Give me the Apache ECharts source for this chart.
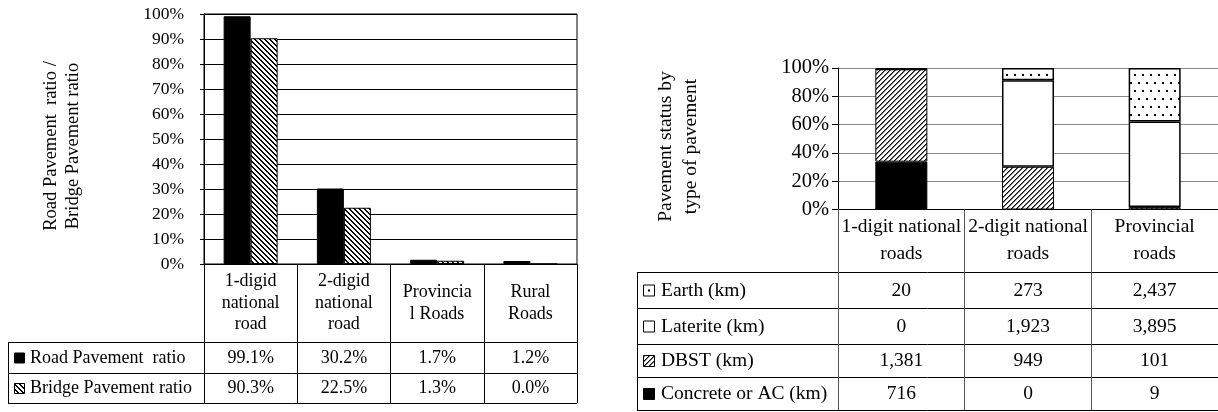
<!DOCTYPE html>
<html><head><meta charset="utf-8">
<script src="https://cdn.jsdelivr.net/npm/echarts@6/dist/echarts.min.js"></script>
<style>html,body{margin:0;padding:0;background:#fff}#c{width:1218px;height:412px}</style>
</head><body><div id="c"></div>
<script>
// ---------- DATA ----------
const leftCategories = ['1-digid\nnational\nroad', '2-digid\nnational\nroad', 'Provincia\nl Roads', 'Rural\nRoads'];
const leftSeriesNames = ['Road Pavement  ratio', 'Bridge Pavement ratio'];
const roadPavement = [99.1, 30.2, 1.7, 1.2];
const bridgePavement = [90.3, 22.5, 1.3, 0.0];
const leftAxisTitle = 'Road Pavement  ratio /\nBridge Pavement ratio';

const rightCategories = ['1-digit national\nroads', '2-digit national\nroads', 'Provincial\nroads'];
const rightSeriesNames = ['Earth (km)', 'Laterite (km)', 'DBST (km)', 'Concrete or AC (km)'];
const earthKm = [20, 273, 2437];
const lateriteKm = [0, 1923, 3895];
const dbstKm = [1381, 949, 101];
const concreteKm = [716, 0, 9];
const rightAxisTitle = 'Pavement status by\ntype of pavement';

// ---------- helpers ----------
const FONT = 'Liberation Serif';
function tile(size, draw) {
  const c = document.createElement('canvas');
  c.width = c.height = size;
  const g = c.getContext('2d');
  g.fillStyle = '#fff'; g.fillRect(0, 0, size, size);
  draw(g, size);
  return c;
}
const backHatch = tile(5, (g, s) => { for (let i = 0; i < s; i++) { g.fillStyle = '#000'; g.fillRect(i, i, 1, 1); g.fillRect((i + 1) % s, i, 1, 1); } });
const fwdHatch = tile(5, (g, s) => { for (let i = 0; i < s; i++) { g.fillStyle = '#000'; g.fillRect(s - 1 - i, i, 1, 1); g.fillStyle = '#777'; g.fillRect((s - i) % s, i, 1, 1); } });
const dots = tile(16, (g) => { g.fillStyle = '#000'; [[2,2],[10,2],[6,10],[14,10]].forEach(p => g.fillRect(p[0], p[1], 2, 2)); });
const pat = (img) => ({ image: img, repeat: 'repeat' });

const totals = earthKm.map((v, i) => v + lateriteKm[i] + dbstKm[i] + concreteKm[i]);
const share = (arr) => arr.map((v, i) => v / totals[i] * 100);

const chart = echarts.init(document.getElementById('c'), null, { renderer: 'canvas' });

const LF = 18, RF = 19.5;
const baseLabel = { fontFamily: FONT, color: '#000' };
chart.setOption({
  animation: false,
  backgroundColor: '#fff',
  grid: [
    { left: 204, top: 14, width: 373, height: 250, show: true, borderColor: '#000', borderWidth: 1, backgroundColor: 'transparent' },
    { left: 838, top: 68, width: 384, height: 141.5 }
  ],
  xAxis: [
    { type: 'category', gridIndex: 0, data: leftCategories,
      axisLine: { lineStyle: { color: '#000', width: 1 } },
      axisTick: { show: true, length: 139, interval: 0, lineStyle: { color: '#000' } },
      axisLabel: Object.assign({}, baseLabel, { interval: 0, margin: 39, verticalAlign: 'middle', align: 'center', fontSize: LF, lineHeight: 21.7 }),
      splitLine: { show: false } },
    { type: 'category', gridIndex: 1, data: rightCategories,
      axisLine: { lineStyle: { color: '#000', width: 1 } },
      axisTick: { show: true, length: 200.5, interval: 0, lineStyle: { color: '#555' } },
      axisLabel: Object.assign({}, baseLabel, { interval: 0, margin: 31, verticalAlign: 'middle', align: 'center', fontSize: RF, lineHeight: 26.7 }),
      splitLine: { show: false } }
  ],
  yAxis: [
    { type: 'value', gridIndex: 0, min: 0, max: 100, interval: 10,
      axisLine: { show: true, lineStyle: { color: '#000' } },
      axisTick: { show: true, length: 4, lineStyle: { color: '#000' } },
      axisLabel: Object.assign({}, baseLabel, { margin: 20, fontSize: 17.5, formatter: '{value}%' }),
      splitLine: { show: true, lineStyle: { color: '#000', width: 1 } } },
    { type: 'value', gridIndex: 1, min: 0, max: 100, interval: 20,
      axisLine: { show: true, lineStyle: { color: '#000' } },
      axisTick: { show: true, length: 6, lineStyle: { color: '#000' } },
      axisLabel: Object.assign({}, baseLabel, { margin: 9, fontSize: 20.5, formatter: '{value}%' }),
      splitLine: { show: true, lineStyle: { color: '#8a8a8a', width: 1 } } }
  ],
  series: [
    { name: leftSeriesNames[0], type: 'bar', xAxisIndex: 0, yAxisIndex: 0, data: roadPavement, barWidth: 27, barGap: '0%',
      itemStyle: { color: '#000', borderColor: '#000', borderWidth: 1 } },
    { name: leftSeriesNames[1], type: 'bar', xAxisIndex: 0, yAxisIndex: 0, data: bridgePavement, barWidth: 27, barGap: '0%',
      itemStyle: { color: pat(backHatch), borderColor: '#000', borderWidth: 1 } },
    { name: rightSeriesNames[3], type: 'bar', stack: 'p', xAxisIndex: 1, yAxisIndex: 1, data: share(concreteKm), barWidth: 52,
      itemStyle: { color: '#000', borderColor: '#000', borderWidth: 1 } },
    { name: rightSeriesNames[2], type: 'bar', stack: 'p', xAxisIndex: 1, yAxisIndex: 1, data: share(dbstKm), barWidth: 52,
      itemStyle: { color: pat(fwdHatch), borderColor: '#000', borderWidth: 1 } },
    { name: rightSeriesNames[1], type: 'bar', stack: 'p', xAxisIndex: 1, yAxisIndex: 1, data: share(lateriteKm), barWidth: 52,
      itemStyle: { color: '#fff', borderColor: '#000', borderWidth: 1.5 } },
    { name: rightSeriesNames[0], type: 'bar', stack: 'p', xAxisIndex: 1, yAxisIndex: 1, data: share(earthKm), barWidth: 52,
      itemStyle: { color: pat(dots), borderColor: '#000', borderWidth: 1.5 } }
  ]
});

// ---------- data tables (text from arrays, x from axis scale) ----------
const g = [];
function text(x, y, t, size, align) {
  g.push({ type: 'text', x: x, y: y, silent: true, style: { text: t, fontFamily: FONT, fontSize: size, fill: '#000', align: align || 'center', verticalAlign: 'middle' } });
}
function line(x1, y1, x2, y2, c, w) {
  g.push({ type: 'line', silent: true, shape: { x1: x1, y1: y1, x2: x2, y2: y2 }, style: { stroke: c || '#000', lineWidth: w || 1 } });
}
function rect(x, y, w, h, fill, stroke) {
  g.push({ type: 'rect', silent: true, shape: { x: x, y: y, width: w, height: h }, style: { fill: fill, stroke: stroke || '#000', lineWidth: 1 } });
}

// axis titles
g.push({ type: 'text', x: 62, y: 146, rotation: Math.PI / 2, silent: true,
  style: { text: leftAxisTitle, fontFamily: FONT, fontSize: 18.5, lineHeight: 22.7, fill: '#000', align: 'center', verticalAlign: 'middle' } });
g.push({ type: 'text', x: 678.5, y: 146.5, rotation: Math.PI / 2, silent: true,
  style: { text: rightAxisTitle, fontFamily: FONT, fontSize: 19.5, lineHeight: 25, fill: '#000', align: 'center', verticalAlign: 'middle' } });

// left table
const lRows = [342.5, 373.5, 403.5];
lRows.forEach(y => line(8, y, 577, y));
line(8.5, 342, 8.5, 404);
const lRowMid = [358, 388.5];
const lVals = [roadPavement, bridgePavement];
rect(14.5, lRowMid[0] - 5, 10, 10, '#000');
rect(14.5, lRowMid[1] - 5, 10, 10, pat(backHatch));
lVals.forEach((arr, r) => {
  text(30, lRowMid[r], leftSeriesNames[r], LF, 'left');
  arr.forEach((v, i) => {
    const x = chart.convertToPixel({ xAxisIndex: 0 }, i);
    text(x, lRowMid[r], v.toFixed(1) + '%', LF);
  });
});

// right table
const rRows = [272.5, 308.5, 344.5, 377.5, 410.5];
rRows.forEach(y => line(637, y, 1218, y));
line(637.5, 272, 637.5, 411);
const rRowMid = [290.5, 326.5, 361, 394];
const rVals = [earthKm, lateriteKm, dbstKm, concreteKm];
const symFill = ['#fff', '#fff', pat(fwdHatch), '#000'];
rVals.forEach((arr, r) => {
  rect(643.5, rRowMid[r] - 5.5, 11, 11, symFill[r]);
  if (r === 0) g.push({ type: 'rect', silent: true, shape: { x: 648, y: rRowMid[r] - 1, width: 2, height: 2 }, style: { fill: '#000' } });
  text(661, rRowMid[r], rightSeriesNames[r], RF, 'left');
  arr.forEach((v, i) => {
    const x = chart.convertToPixel({ xAxisIndex: 1 }, i);
    text(x, rRowMid[r], v.toLocaleString('en-US'), RF);
  });
});

chart.setOption({ graphic: g });
</script>
</body></html>
